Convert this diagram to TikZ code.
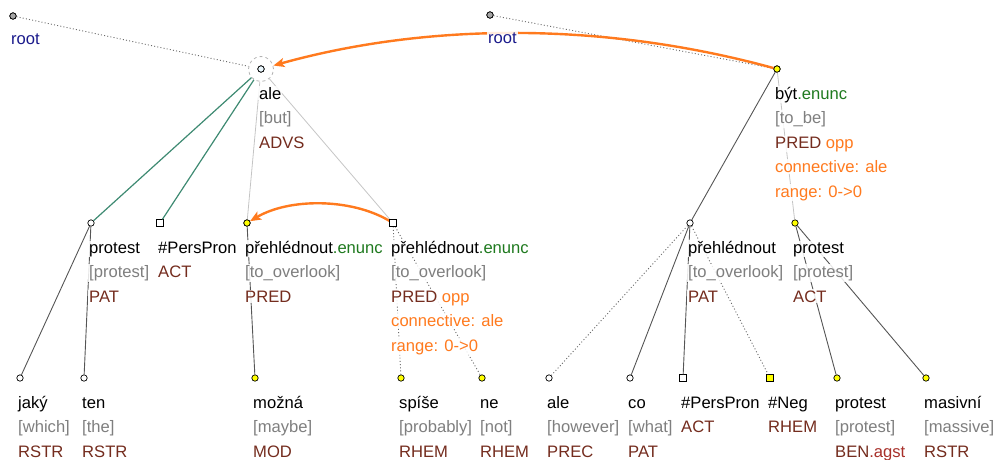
\documentclass[tikz,border=0pt]{standalone}
\usepackage{fontspec}
\setmainfont{Liberation Sans}
\usetikzlibrary{arrows.meta}
\definecolor{glc}{HTML}{7F7F7F}
\definecolor{func}{HTML}{742C1E}
\definecolor{agst}{HTML}{A8302A}
\definecolor{enc}{HTML}{1F7A1F}
\definecolor{orng}{HTML}{FF7A1E}
\definecolor{rootc}{HTML}{1A1A8C}
\definecolor{grn}{HTML}{3E8A72}
\definecolor{dk}{HTML}{555555}
\definecolor{lt}{HTML}{C4C4C4}
\definecolor{dotc}{HTML}{6A6A6A}
\definecolor{yel}{HTML}{FFFF00}
\newcommand\Lab[4]{\node[lbl] (#1-#2) at ([shift={(-3,#3)}]#1) {#4};}
\newcommand\gl[1]{\textcolor{glc}{#1}}
\newcommand\fn[1]{\textcolor{func}{#1}}
\newcommand\og[1]{\textcolor{orng}{#1}}
\newcommand\en[1]{\textcolor{enc}{#1}}
\begin{document}
\begin{tikzpicture}[x=1pt,y=-1pt,
  circ/.style={circle,draw=black,line width=0.7pt,fill=white,inner sep=0pt,minimum size=6.4pt},
  ycirc/.style={circ,fill=yel},
  rcirc/.style={circ,fill=black!35},
  sq/.style={rectangle,draw=black,line width=0.7pt,fill=white,inner sep=0pt,minimum size=6.6pt},
  ysq/.style={sq,fill=yel},
  lbl/.style={anchor=base west,inner sep=1pt,fill=white,fill opacity=0.85,text opacity=1,
    font=\fontsize{16.6pt}{20pt}\selectfont},
  dkedge/.style={draw=dk,line width=0.9pt},
  grnedge/.style={draw=grn,line width=1.2pt},
  ltedge/.style={draw=lt,line width=0.8pt},
  dotedge/.style={draw=dotc,line width=0.9pt,dash pattern=on 1pt off 2.2pt},
  oarr/.style={draw=orng,line width=2.4pt,-{Stealth[length=11pt,width=9pt,inset=2.5pt]}},
  dcirc/.style={circle,draw=black!30,dashed,line width=0.8pt,minimum size=25pt,inner sep=0pt}
]
\useasboundingbox (0,0) rectangle (998,459);
% markers
\node[rcirc] (r1) at (13,16) {};
\node[rcirc] (r2) at (490,15) {};
\node[dcirc] (aleC) at (261,69) {};
\node[circ,fill=cyan!8] (ale) at (261,69) {};
\node[ycirc] (byt) at (777,69) {};
\node[circ] (protA) at (91,223) {};
\node[sq] (ppA) at (160,223) {};
\node[ycirc] (prehA) at (247,223) {};
\node[sq] (prehB) at (393,223) {};
\node[circ] (prehC) at (690,223) {};
\node[ycirc] (protB) at (795,223) {};
\node[circ] (jaky) at (20,378) {};
\node[circ] (ten) at (84,378) {};
\node[ycirc] (mozna) at (255,378) {};
\node[ycirc] (spise) at (401,378) {};
\node[ycirc] (ne) at (482,378) {};
\node[circ] (aleB) at (549,378) {};
\node[circ] (co) at (630,378) {};
\node[sq] (ppB) at (683,378) {};
\node[ysq] (neg) at (770,378) {};
\node[ycirc] (protC) at (837,378) {};
\node[ycirc] (masiv) at (926,378) {};
% edges
\draw[dotedge] (r1) -- (aleC);
\draw[dotedge] (r2) -- (byt);
\draw[grnedge] (aleC) -- (protA);
\draw[grnedge] (aleC) -- (ppA);
\draw[ltedge] (aleC) -- (prehA);
\draw[ltedge] (aleC) -- (prehB);
\draw[dkedge] (protA) -- (jaky);
\draw[dkedge] (protA) -- (ten);
\draw[dkedge] (prehA) -- (mozna);
\draw[dotedge] (prehB) -- (spise);
\draw[dotedge] (prehB) -- (ne);
\draw[dkedge] (byt) -- (prehC);
\draw[ltedge] (byt) -- (protB);
\draw[dotedge] (prehC) -- (aleB);
\draw[dkedge] (prehC) -- (co);
\draw[dkedge] (prehC) -- (ppB);
\draw[dotedge] (prehC) -- (neg);
\draw[dkedge] (protB) -- (protC);
\draw[dkedge] (protB) -- (masiv);
% coreference arrows
\draw[oarr] (byt) .. controls +(-175,-48) and +(165,-46) .. (aleC);
\draw[oarr] (prehB) .. controls +(-42,-25) and +(42,-25) .. (prehA);
% redraw markers on top
\node[rcirc] at (r1) {};
\node[rcirc] at (r2) {};
\node[circ,fill=cyan!8] at (ale) {};
\node[ycirc] at (byt) {};
\node[sq] at (prehB) {};
\node[ycirc] at (prehA) {};
% labels
\node[lbl,text=rootc] (r1-1) at ([shift={(-3,28)}]r1) {root};
\node[lbl,text=rootc] (r2-1) at ([shift={(-3,28)}]r2) {root};
\Lab{ale}{1}{30}{ale}
\Lab{ale}{2}{54.5}{\gl{[but]}}
\Lab{ale}{3}{79}{\fn{ADVS}}
\Lab{byt}{1}{30}{být\en{.enunc}}
\Lab{byt}{2}{54.5}{\gl{[to\_be]}}
\Lab{byt}{3}{79}{\fn{PRED} \og{opp}}
\Lab{byt}{4}{103.5}{\og{connective: ale}}
\Lab{byt}{5}{128}{\og{range: 0->0}}
\Lab{protA}{1}{30}{protest}
\Lab{protA}{2}{54.5}{\gl{[protest]}}
\Lab{protA}{3}{79}{\fn{PAT}}
\Lab{ppA}{1}{30}{\#PersPron}
\Lab{ppA}{2}{54.5}{\fn{ACT}}
\Lab{prehA}{1}{30}{přehlédnout\en{.enunc}}
\Lab{prehA}{2}{54.5}{\gl{[to\_overlook]}}
\Lab{prehA}{3}{79}{\fn{PRED}}
\Lab{prehB}{1}{30}{přehlédnout\en{.enunc}}
\Lab{prehB}{2}{54.5}{\gl{[to\_overlook]}}
\Lab{prehB}{3}{79}{\fn{PRED} \og{opp}}
\Lab{prehB}{4}{103.5}{\og{connective: ale}}
\Lab{prehB}{5}{128}{\og{range: 0->0}}
\Lab{prehC}{1}{30}{přehlédnout}
\Lab{prehC}{2}{54.5}{\gl{[to\_overlook]}}
\Lab{prehC}{3}{79}{\fn{PAT}}
\Lab{protB}{1}{30}{protest}
\Lab{protB}{2}{54.5}{\gl{[protest]}}
\Lab{protB}{3}{79}{\fn{ACT}}
\Lab{jaky}{1}{30}{jaký}
\Lab{jaky}{2}{54.5}{\gl{[which]}}
\Lab{jaky}{3}{79}{\fn{RSTR}}
\Lab{ten}{1}{30}{ten}
\Lab{ten}{2}{54.5}{\gl{[the]}}
\Lab{ten}{3}{79}{\fn{RSTR}}
\Lab{mozna}{1}{30}{možná}
\Lab{mozna}{2}{54.5}{\gl{[maybe]}}
\Lab{mozna}{3}{79}{\fn{MOD}}
\Lab{spise}{1}{30}{spíše}
\Lab{spise}{2}{54.5}{\gl{[probably]}}
\Lab{spise}{3}{79}{\fn{RHEM}}
\Lab{ne}{1}{30}{ne}
\Lab{ne}{2}{54.5}{\gl{[not]}}
\Lab{ne}{3}{79}{\fn{RHEM}}
\Lab{aleB}{1}{30}{ale}
\Lab{aleB}{2}{54.5}{\gl{[however]}}
\Lab{aleB}{3}{79}{\fn{PREC}}
\Lab{co}{1}{30}{co}
\Lab{co}{2}{54.5}{\gl{[what]}}
\Lab{co}{3}{79}{\fn{PAT}}
\Lab{ppB}{1}{30}{\#PersPron}
\Lab{ppB}{2}{54.5}{\fn{ACT}}
\Lab{neg}{1}{30}{\#Neg}
\Lab{neg}{2}{54.5}{\fn{RHEM}}
\Lab{protC}{1}{30}{protest}
\Lab{protC}{2}{54.5}{\gl{[protest]}}
\Lab{protC}{3}{79}{\fn{BEN}\textcolor{agst}{.agst}}
\Lab{masiv}{1}{30}{masivní}
\Lab{masiv}{2}{54.5}{\gl{[massive]}}
\Lab{masiv}{3}{79}{\fn{RSTR}}
\end{tikzpicture}
\end{document}
